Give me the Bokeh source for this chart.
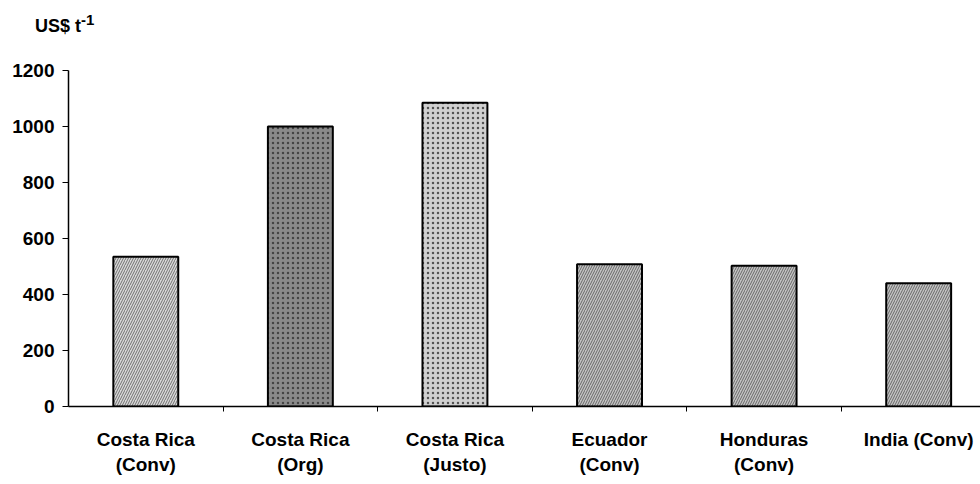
from bokeh.plotting import figure
from bokeh.models import FixedTicker, ColumnDataSource, Range1d, Div
from bokeh.layouts import column
from bokeh.embed import file_html
from bokeh.resources import INLINE

categories = ["Costa Rica\n(Conv)", "Costa Rica\n(Org)", "Costa Rica\n(Justo)",
              "Ecuador\n(Conv)", "Honduras\n(Conv)", "India (Conv)"]
values = [535, 1000, 1085, 508, 503, 440]
y_ticks = [0, 200, 400, 600, 800, 1000, 1200]
unit_label = "US$ t<sup>-1</sup>"

fill_colors = ["#d9d9d9", "#8a8a8a", "#d0d0d0", "#c4c4c4", "#c4c4c4", "#c4c4c4"]
hatches = ["right_diagonal_line", "dot", "dot", "right_diagonal_line", "right_diagonal_line", "right_diagonal_line"]

idx = list(range(len(categories)))
src = ColumnDataSource(dict(x=idx, top=values, fill=fill_colors, hatch=hatches))

FONT = "Liberation Sans"

header = Div(text=unit_label, width=980, height=40, margin=(0, 0, 0, 0),
             styles={"font-family": FONT, "font-weight": "bold", "font-size": "18px",
                     "color": "black", "padding-top": "9px", "padding-left": "35px",
                     "line-height": "22px"})

p = figure(width=980, height=444, output_backend="svg", toolbar_location=None,
           x_range=Range1d(-0.5, 5.4), y_range=Range1d(0, 1200),
           min_border_left=68, min_border_right=0, min_border_top=30, min_border_bottom=78,
           outline_line_color=None, background_fill_color="white", border_fill_color="white",
           margin=(0, 0, 0, 0))

p.vbar(x="x", top="top", width=0.42, source=src, fill_color="fill",
       line_color="black", line_width=2,
       hatch_pattern="hatch", hatch_color="#333333", hatch_scale=5, hatch_weight=0.8, hatch_alpha=0.8)

p.grid.visible = False

ya = p.yaxis[0]
ya.ticker = FixedTicker(ticks=y_ticks)
ya.major_label_text_font = FONT
ya.major_label_text_font_style = "bold"
ya.major_label_text_font_size = "19px"
ya.major_label_text_color = "black"
ya.major_label_standoff = 8
ya.major_tick_out = 6
ya.major_tick_in = 0
ya.minor_tick_line_color = None
ya.axis_line_width = 1.5

xa = p.xaxis[0]
xa.ticker = FixedTicker(ticks=idx, minor_ticks=[i + 0.5 for i in idx])
xa.major_label_overrides = {i: c for i, c in enumerate(categories)}
xa.major_label_text_font = FONT
xa.major_label_text_font_style = "bold"
xa.major_label_text_font_size = "19px"
xa.major_label_text_color = "black"
xa.major_label_standoff = 17
xa.major_tick_out = 0
xa.major_tick_in = 0
xa.minor_tick_out = 5
xa.minor_tick_in = 0
xa.axis_line_width = 1.5

layout = column(header, p, spacing=0, margin=(0, 0, 0, 0))

open("out.html", "w").write(file_html(layout, INLINE))
